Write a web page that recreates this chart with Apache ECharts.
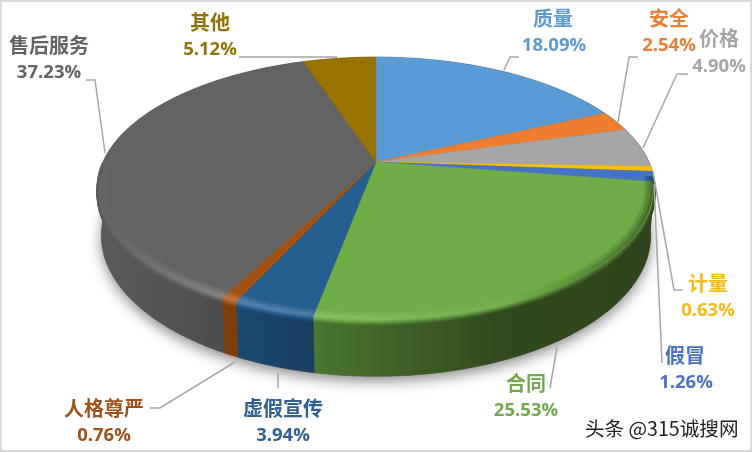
<!DOCTYPE html>
<html>
<head>
<meta charset="utf-8">
<style>html,body{margin:0;padding:0;background:#fff}#c{width:752px;height:452px}</style>
<script src="https://cdn.jsdelivr.net/npm/echarts@6/dist/echarts.min.js"></script>
</head>
<body>
<div id="c"></div>
<script>
const categories = ['质量','安全','价格','计量','假冒','合同','虚假宣传','人格尊严','售后服务','其他'];
const shares = [18.09,2.54,4.90,0.63,1.26,25.53,3.94,0.76,37.23,5.12];
const faceColors = ['#5b9bd5','#ed7d31','#a5a5a5','#ffc000','#4472c4','#70ad47','#255e91','#a5500f','#636363','#997300'];
const textColors = ['#5f9bcf','#e8803a','#a5a5a5','#f5bb1a','#4a72bd','#72a950','#2f6090','#9c5218','#636363','#8f7209'];
const nameAnchors = [[553,18],[669,18],[719,38],[708,283],[685,355],[526,383],[283,408],[104,408],[49,45],[210,22]];
const pctAnchors  = [[554,46],[669,46],[719,67],[708,311],[686,383],[526,411],[283,436],[104,436],[49,73],[210,50]];
const leaders = [
  [[504,70],[510,57],[519,57]],
  [[618,122],[629,57],[638,57]],
  [[643,148],[677,74],[688,74]],
  [[653,172],[674,290],[683,290]],
  [[654,184],[662,363]],
  [[557,347],[550,388]],
  [[278,373],[278,388]],
  [[235,362],[160,408],[150,408]],
  [[105,153],[95,80],[86,80]],
  [[239,57],[337,57]]
];
// projection of the tilted disc
const CX=376, CY=162, A=273, B=126, K=0.2016;
const TOPC=188, TOPB=131.5, TOPA=279, BOTC=235, BOTB=141, BOTA=275;
const total = shares.reduce((a,b)=>a+b,0);
const cum = [0]; shares.forEach((v,i)=>cum.push(cum[i]+v));
const angleOf = v => echarts.number.linearMap(v,[0,total],[0,Math.PI*2]);
function face(a,r){ r=r==null?1:r; const u=Math.sin(a)*r, v=-Math.cos(a)*r, w=1-K*v; return [CX+A*u/w, CY+B*v/w]; }
function base(a){ const p=face(a); return [CX+(p[0]-CX)*BOTA/TOPA, BOTC+(p[1]-TOPC)*BOTB/TOPB]; }
function arcAngles(i){ const a0=angleOf(cum[i]),a1=angleOf(cum[i+1]),n=Math.max(3,Math.ceil((a1-a0)/0.02)),o=[]; for(let k=0;k<=n;k++)o.push(a0+(a1-a0)*k/n); return o; }
function rgb(h){ return [1,3,5].map(i=>parseInt(h.substr(i,2),16)); }
function shade(h,f){ const c=rgb(h).map(x=>Math.min(255,Math.round(f<=1?x*f:x+(255-x)*(f-1)))); return 'rgb('+c.join(',')+')'; }
function lerp(xs,ys,x){ if(x<=xs[0])return ys[0]; for(let i=1;i<xs.length;i++) if(x<=xs[i]) return ys[i-1]+(ys[i]-ys[i-1])*(x-xs[i-1])/(xs[i]-xs[i-1]); return ys[ys.length-1]; }
const SX=[97,170,230,300,400,500,655];
const wallF=[0.92,0.84,0.76,0.70,0.56,0.43,0.40];
const hiF  =[1.00,1.12,1.22,1.18,1.10,1.04,0.60];
function ramp(h,fn){ const stops=[]; for(let x=97;x<=655;x+=31){ stops.push({offset:(x-97)/558,color:shade(h,fn(x))}); } return new echarts.graphic.LinearGradient(97,0,655,0,stops,true); }
function wallGrad(h){ return ramp(h,x=>lerp(SX,wallF,x)); }

function renderWall(p,api){
  const i=p.dataIndex, as=arcAngles(i);
  const pts=as.map(a=>face(a)).concat(as.slice().reverse().map(a=>base(a)));
  const g=wallGrad(faceColors[i]);
  return {type:'polygon',shape:{points:pts},style:{fill:g,stroke:g,lineWidth:0.6}};
}
function renderTop(p,api){
  const i=p.dataIndex, as=arcAngles(i);
  const pts=[[CX,CY]].concat(as.map(a=>face(a)));
  const c=faceColors[i];
  return {type:'polygon',shape:{points:pts},style:{fill:c,stroke:c,lineWidth:0.4}};
}
function renderBevel(p,api){
  const i=p.dataIndex, h=faceColors[i];
  const as=arcAngles(i).filter(a=>a>Math.PI*0.53 && a<Math.PI*1.5);
  if(as.length<2) return {type:'group',children:[]};
  const kids=[];
  [0.97,0.98,0.99].forEach((r,n)=>{
    const t=(n+1)/3;
    kids.push({type:'polyline',shape:{points:as.map(a=>face(a,r))},
      style:{fill:null,lineWidth:3,lineCap:'butt',stroke:ramp(h,x=>1+(lerp(SX,hiF,x)-1)*t)}});
  });
  for(let d=0;d<=6;d++){
    const t=d/6;
    kids.push({type:'polyline',shape:{points:as.map(a=>{const q=face(a);return [q[0],q[1]+d];})},
      style:{fill:null,lineWidth:1.6,stroke:ramp(h,x=>lerp(SX,hiF,x)*(1-t)+lerp(SX,wallF,x)*t)}});
  }
  return {type:'group',children:kids};
}
function renderLabel(p,api){
  const i=p.dataIndex, kids=[];
  kids.push({type:'polyline',shape:{points:leaders[i]},style:{fill:null,stroke:'#a6a6a6',lineWidth:1.5}});
  kids.push({type:'text',style:{text:categories[i],x:nameAnchors[i][0],y:nameAnchors[i][1],fill:textColors[i],
    font:'bold 20px "Noto Sans CJK SC"',align:'center',verticalAlign:'middle'}});
  kids.push({type:'text',style:{text:shares[i].toFixed(2)+'%',x:pctAnchors[i][0],y:pctAnchors[i][1],fill:textColors[i],
    font:'bold 18.5px "Open Sans"',align:'center',verticalAlign:'middle'}});
  return {type:'group',children:kids};
}
function renderShadow(){
  const pts=[]; for(let k=0;k<=180;k++){ pts.push(base(k/180*Math.PI*2)); }
  return {type:'polygon',shape:{points:pts},style:{fill:'#777',shadowBlur:14,shadowOffsetY:5,shadowColor:'rgba(0,0,0,0.45)'}};
}
const chart=echarts.init(document.getElementById('c'),null,{renderer:'canvas',width:752,height:452});
const common={type:'custom',coordinateSystem:'none',silent:true,animation:false,data:shares};
chart.setOption({
  animation:false,
  backgroundColor:'#fff',
  graphic:[
    {type:'rect',z:0,shape:{x:1,y:1,width:750,height:450},style:{fill:'none',stroke:'#d9d9d9',lineWidth:2},silent:true},
    {type:'text',z:100,style:{text:'头条 @315诚搜网',x:585,y:429,fill:'#222',stroke:'#fff',lineWidth:3,
      font:'19.6px "Noto Sans CJK SC"',verticalAlign:'middle'},silent:true}
  ],
  series:[
    {type:'custom',coordinateSystem:'none',silent:true,animation:false,data:[1],renderItem:renderShadow,z:1},
    Object.assign({},common,{renderItem:renderWall,z:2}),
    Object.assign({},common,{renderItem:renderTop,z:3}),
    Object.assign({},common,{renderItem:renderBevel,z:4}),
    Object.assign({},common,{renderItem:renderLabel,z:5})
  ]
});
</script>
</body>
</html>
